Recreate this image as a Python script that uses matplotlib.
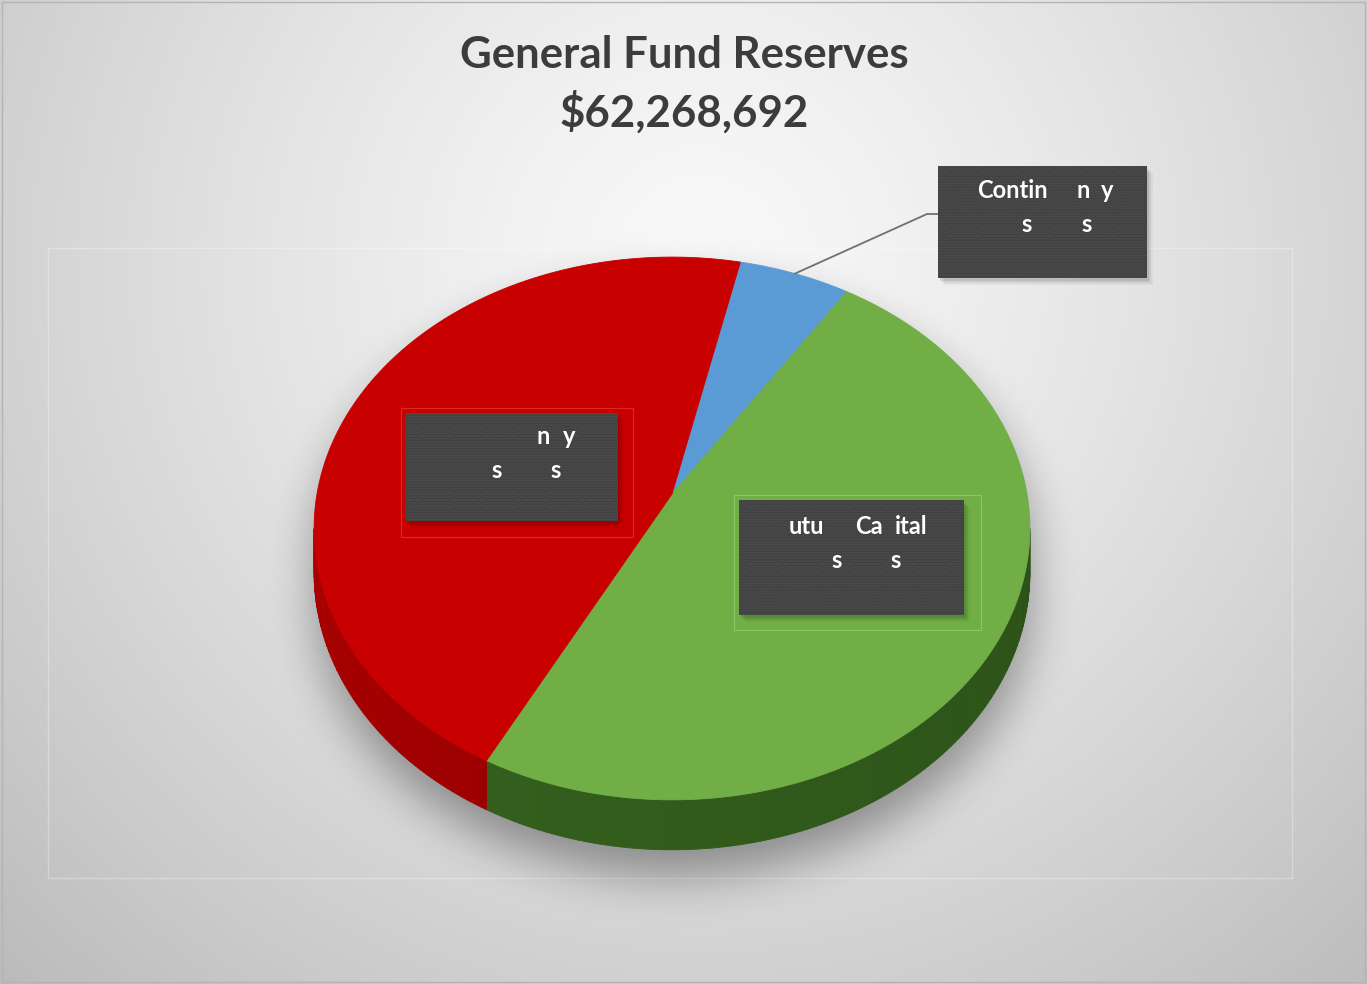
import numpy as np
import matplotlib
matplotlib.use("Agg")
import matplotlib.pyplot as plt
from matplotlib.patches import Polygon, Rectangle
from matplotlib.path import Path
from matplotlib.colors import to_rgb

# ---- data -------------------------------------------------------------
title_lines = ["General Fund Reserves", "$62,268,692"]
reserve_names = ["Contingency Reserves", "Future Capital Reserves",
                 "Economic Uncertainty Reserves"]
reserve_values = [3_550_000, 30_200_000, 28_518_692]
top_colors = ["#5B9BD5", "#71AE46", "#C80000"]
side_colors = ["#3E6E9A", "#325C1C", "#9A0000"]

# data-label text as it is rendered (pieces of each line)
contingency_label = [["Contin", "n", "y"], ["s", "s"]]
capital_label = [["utu", "Ca", "ital"], ["s", "s"]]
economic_label = [["n", "y"], ["s", "s"]]

START_ANGLE = 12.5  # degrees clockwise from 12 o'clock

# ---- canvas -----------------------------------------------------------
W, H_PX = 1367, 984
fig = plt.figure(figsize=(W / 100, H_PX / 100), dpi=100)
ax = fig.add_axes([0, 0, 1, 1])
ax.set_xlim(0, W)
ax.set_ylim(H_PX, 0)
ax.axis("off")

# soft radial background
yy, xx = np.mgrid[0:H_PX:4, 0:W:4]
r = np.hypot((xx - 700) / 900.0, (yy - 260) / 900.0)
bg = np.clip(0.975 - 0.21 * r ** 1.3, 0, 1)
ax.imshow(np.dstack([bg, bg, bg]), extent=(0, W, H_PX, 0),
          interpolation="bilinear", zorder=0, aspect="auto")
ax.add_patch(Rectangle((48, 248), 1244, 630, fill=False,
                       edgecolor="white", lw=1.0, alpha=0.3, zorder=1))
ax.add_patch(Rectangle((2, 2), W - 4, H_PX - 4, fill=False,
                       edgecolor="#b4b4b4", lw=1.0, zorder=1))

# ---- perspective disc geometry ------------------------------------------
CX, CY = 672.0, 494.0
K, KB, A, DEPTH = 355.0, 267.0, 0.127, 43.6


def proj(theta_deg, r=1.0, h=0.0):
    t = np.radians(theta_deg)
    X = r * np.sin(t)
    Y = -r * np.cos(t)
    w = 1 - A * Y
    return CX + K * X / w, CY + KB * Y / w + DEPTH * h / w


vals = np.asarray(reserve_values, dtype=float)
fracs = vals / vals.sum()
bounds = START_ANGLE + 360 * np.concatenate([[0], np.cumsum(fracs)])

# ---- shadow under the disc ---------------------------------------------
ang = np.linspace(0, 360, 361)
tx, ty = proj(ang)
bx, by = proj(ang, h=1.0)
pts = np.column_stack([xx.ravel(), yy.ravel()])
top_path = Path(np.column_stack([tx, ty + 24]))
bot_path = Path(np.column_stack([bx, by + 24]))
mask = (top_path.contains_points(pts) | bot_path.contains_points(pts))
mask = mask.reshape(xx.shape).astype(float)


def box_blur(a, rad, axis):
    k = np.ones(2 * rad + 1) / (2 * rad + 1)
    return np.apply_along_axis(lambda v: np.convolve(v, k, mode="same"), axis, a)


for _ in range(3):
    mask = box_blur(mask, 5, 0)
    mask = box_blur(mask, 5, 1)
shadow = np.zeros(mask.shape + (4,))
shadow[..., 3] = 0.36 * mask
ax.imshow(shadow, extent=(0, W, H_PX, 0), interpolation="bilinear",
          zorder=2, aspect="auto")

# ---- side walls (front half only) -------------------------------------
vis_lo = np.degrees(np.arccos(-A))
vis_hi = 360 - vis_lo
for i in range(len(vals)):
    a0 = max(bounds[i], vis_lo)
    a1 = min(bounds[i + 1], vis_hi)
    if a1 <= a0:
        continue
    edges = np.arange(a0, a1, 1.0)
    edges = np.append(edges, a1)
    base = np.array(to_rgb(side_colors[i]))
    for s0, s1 in zip(edges[:-1], edges[1:]):
        seg = np.linspace(s0, s1, 4)
        ux, uy = proj(seg)
        lx, ly = proj(seg[::-1], h=1.0)
        f = 0.88 + 0.22 * ((s0 + s1) / 2 - vis_lo) / (vis_hi - vis_lo)
        col = np.clip(base * f, 0, 1)
        ax.add_patch(Polygon(np.column_stack([np.concatenate([ux, lx]),
                                              np.concatenate([uy, ly])]),
                             closed=True, facecolor=col, edgecolor=col,
                             lw=0.6, zorder=3))

# ---- top faces ---------------------------------------------------------
for i in range(len(vals)):
    arc = np.linspace(bounds[i], bounds[i + 1], 200)
    ax_, ay_ = proj(arc)
    poly = np.column_stack([np.concatenate([[CX], ax_]),
                            np.concatenate([[CY], ay_])])
    ax.add_patch(Polygon(poly, closed=True, facecolor=top_colors[i],
                         edgecolor=top_colors[i], lw=0.6, zorder=4))

# ---- labels ------------------------------------------------------------
FONT = "Lato"


def label_box(x0, y0, w, h, pieces, frame=None, frame_color=None):
    if frame is not None:
        fx0, fy0, fw, fh = frame
        ax.add_patch(Rectangle((fx0, fy0), fw, fh, fill=False,
                               edgecolor=frame_color, lw=0.8, zorder=5))
    for k, a in enumerate([0.10, 0.07, 0.04]):
        ax.add_patch(Rectangle((x0 + 2 + k * 2, y0 + 3 + k * 2), w, h,
                               facecolor="black", edgecolor="none",
                               alpha=a, zorder=6))
    ax.add_patch(Rectangle((x0, y0), w, h, facecolor="#404040",
                           edgecolor="none", zorder=7))
    ax.add_patch(Rectangle((x0, y0), w, h, facecolor="none",
                           edgecolor="#505050", lw=0, hatch="......",
                           zorder=7.5))
    for (tx_, ty_, txt) in pieces:
        ax.text(tx_, ty_, txt, color="white", fontsize=17, fontweight="bold",
                family=FONT, ha="left", va="center", zorder=8)


# contingency (with leader line)
mid = (bounds[0] + bounds[1]) / 2
lx0, ly0 = proj(mid)
ax.plot([lx0, 927, 938], [ly0, 214, 214], color="#707070", lw=1.3, zorder=6)
label_box(938, 166, 209, 112, [
    (977, 191, contingency_label[0][0]),
    (1076, 191, contingency_label[0][1]),
    (1101, 191, contingency_label[0][2]),
    (1021, 225, contingency_label[1][0]),
    (1081, 225, contingency_label[1][1]),
])

# future capital
label_box(739, 500, 225, 115, [
    (789, 527, capital_label[0][0]),
    (855, 527, capital_label[0][1]),
    (895, 527, capital_label[0][2]),
    (831, 561, capital_label[1][0]),
    (890, 561, capital_label[1][1]),
], frame=(734, 495, 247, 135), frame_color="#8ec66c")

# economic uncertainty
label_box(405, 413, 213, 108, [
    (537, 437, economic_label[0][0]),
    (563, 437, economic_label[0][1]),
    (491, 470, economic_label[1][0]),
    (550, 470, economic_label[1][1]),
], frame=(401, 408, 232, 129), frame_color="#dc2a2a")

# ---- title -------------------------------------------------------------
ax.text(684, 55, title_lines[0], ha="center", va="center", fontsize=31.5,
        fontweight="bold", color="#3c3c3c", family=FONT, zorder=9)
ax.text(684, 112, title_lines[1], ha="center", va="center", fontsize=31.5,
        fontweight="bold", color="#3c3c3c", family=FONT, zorder=9)

fig.savefig("out.png", dpi=100)
